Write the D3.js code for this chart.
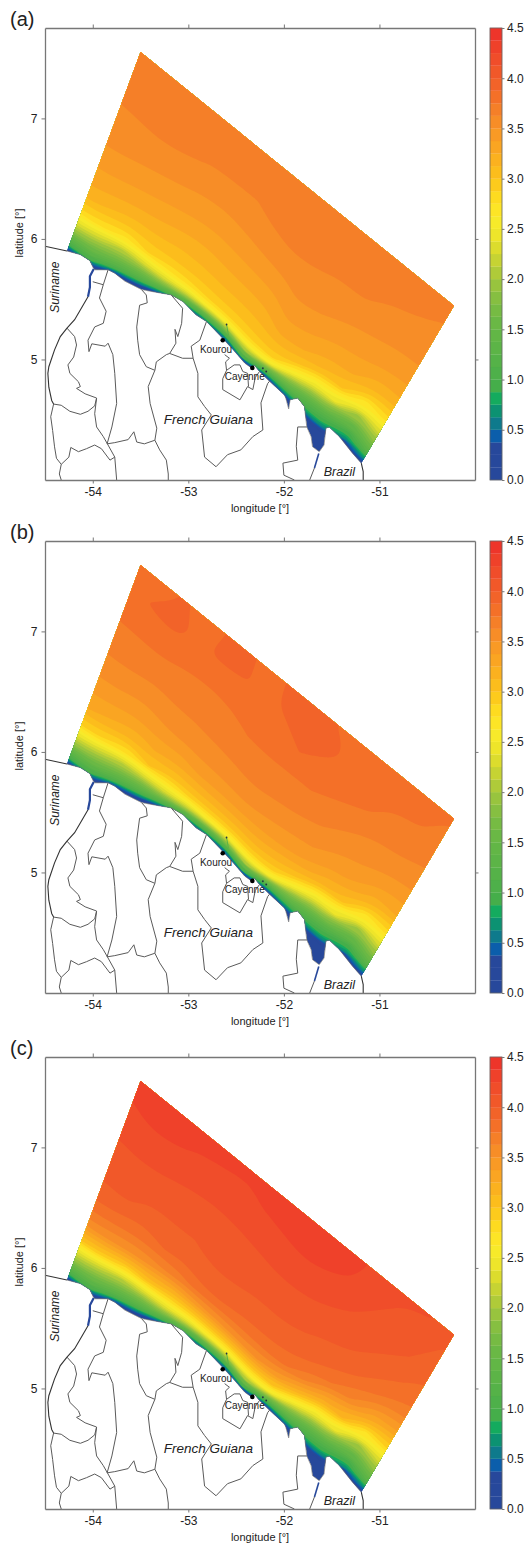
<!DOCTYPE html>
<html lang="en">
  <head>
    <meta charset="UTF-8" />
    <title>French Guiana offshore field maps</title>
    <script src="https://d3js.org/d3.v7.min.js"></script>
    <style>
      body {
        margin: 0;
        background: #fff;
      }
      text {
        font-family: "Liberation Sans", Arial, sans-serif;
        fill: #222;
      }
      .domain,
      .tick line {
        stroke: #777;
      }
    </style>
  </head>
  <body>
    <div id="chart"></div>
    <script>
      const panelNames = ["(a)", "(b)", "(c)"];
      const lonTicks = [-54, -53, -52, -51];
      const latTicks = [5, 6, 7];
      const barTicks = [0, 0.5, 1, 1.5, 2, 2.5, 3, 3.5, 4, 4.5];
      const barStep = 0.125;

      // one colour per band of the colour bar, lowest first
      const bandColors = [
        "#27489b", "#27489b", "#27489b", "#0b5eab", "#0e7a8c", "#0c9272",
        "#14ab5e", "#45ae4a", "#4eb04a", "#55b248", "#5cb447", "#62b646",
        "#6ab845", "#76bb43", "#86bf41", "#98c43e", "#afcb39", "#c6d333",
        "#dcdc2d", "#eee52a", "#f7ea2a", "#fde526", "#fedb20", "#fdcb1c",
        "#fcbd1c", "#fbb11f", "#faa522", "#f99a25", "#f78d27", "#f57f28",
        "#f47028", "#f26329", "#f15829", "#f04d2a", "#ef412a", "#ee352a",
      ];

      // modelled domain, offshore edge
      const cornerTop = [-53.5, 7.55];
      const cornerRight = [-50.22, 5.445];

      // smoothed shoreline the field columns hang from
      const shoreRef = [
        [-54.28, 5.9], [-54.13, 5.84], [-53.98, 5.72], [-53.77, 5.68],
        [-53.5, 5.55], [-53.18, 5.5], [-52.92, 5.34], [-52.67, 5.17],
        [-52.41, 4.93], [-52.15, 4.78], [-51.98, 4.66], [-51.76, 4.42],
        [-51.5, 4.3], [-51.19, 4.14],
      ];

      // fraction of the way from shore to offshore edge for each row of a column
      const offshoreSteps = [0, 0.015, 0.03, 0.05, 0.07, 0.1, 0.14, 0.2, 0.28, 0.38, 0.5, 0.62, 0.75, 0.88, 1];

      // values per column, west to east, shore to offshore
      const fieldA = [
        [0.1, 0.4, 0.9, 1.2, 1.5, 1.9, 2.35, 2.85, 3.18, 3.33, 3.48, 3.56, 3.63, 3.68, 3.7],
        [0.2, 0.6, 1.0, 1.25, 1.5, 1.8, 2.2, 2.8, 3.1, 3.3, 3.46, 3.56, 3.64, 3.7, 3.72],
        [0, 0.1, 0.5, 1.05, 1.35, 1.7, 2.05, 2.7, 3.05, 3.28, 3.44, 3.55, 3.66, 3.72, 3.74],
        [0, 0.1, 0.45, 1.0, 1.3, 1.7, 2.3, 2.9, 3.1, 3.27, 3.42, 3.54, 3.64, 3.72, 3.74],
        [0, 0.25, 0.7, 1.3, 1.8, 2.3, 2.7, 2.97, 3.12, 3.26, 3.42, 3.52, 3.62, 3.7, 3.72],
        [0, 0.4, 0.9, 1.4, 2.0, 2.5, 2.85, 3.02, 3.15, 3.27, 3.42, 3.52, 3.62, 3.7, 3.72],
        [0, 0.3, 0.7, 1.3, 1.9, 2.6, 2.9, 3.05, 3.18, 3.3, 3.44, 3.54, 3.62, 3.7, 3.72],
        [0, 0.2, 0.6, 1.2, 1.8, 2.5, 2.9, 3.05, 3.18, 3.32, 3.46, 3.58, 3.66, 3.7, 3.72],
        [0, 0.4, 1.0, 1.6, 2.1, 2.6, 2.9, 3.05, 3.18, 3.32, 3.47, 3.6, 3.68, 3.72, 3.72],
        [0, 0.1, 0.3, 0.9, 1.6, 2.5, 2.95, 3.12, 3.3, 3.42, 3.53, 3.6, 3.66, 3.7, 3.7],
        [0, 0.3, 0.7, 1.1, 1.5, 1.9, 2.5, 3.0, 3.25, 3.38, 3.5, 3.58, 3.64, 3.7, 3.7],
        [0, 0.05, 0.3, 0.7, 1.0, 1.3, 1.8, 2.5, 3.1, 3.3, 3.44, 3.55, 3.65, 3.7, 3.7],
        [0, 0.05, 0.3, 0.6, 0.85, 1.1, 1.6, 2.4, 3.0, 3.28, 3.42, 3.52, 3.6, 3.68, 3.7],
        [0, 0, 0.1, 0.3, 0.7, 0.95, 1.4, 1.9, 2.65, 3.15, 3.38, 3.5, 3.58, 3.66, 3.7],
        [0.2, 0.4, 0.7, 1.0, 1.3, 1.6, 1.9, 2.35, 2.85, 3.2, 3.38, 3.5, 3.56, 3.62, 3.7],
      ];

      const fieldB = [
        [0.1, 0.4, 0.9, 1.2, 1.5, 1.9, 2.35, 2.9, 3.25, 3.42, 3.58, 3.68, 3.77, 3.83, 3.85],
        [0.2, 0.6, 1.0, 1.25, 1.5, 1.8, 2.2, 2.85, 3.2, 3.4, 3.58, 3.68, 3.78, 3.89, 3.82],
        [0, 0.1, 0.5, 1.05, 1.35, 1.7, 2.1, 2.75, 3.15, 3.38, 3.55, 3.68, 3.8, 3.92, 3.88],
        [0, 0.1, 0.45, 1.0, 1.3, 1.7, 2.3, 3.0, 3.25, 3.46, 3.6, 3.68, 3.77, 3.85, 3.84],
        [0, 0.25, 0.7, 1.3, 1.8, 2.3, 2.7, 3.05, 3.3, 3.5, 3.62, 3.7, 3.77, 3.9, 3.88],
        [0, 0.4, 0.9, 1.4, 2.0, 2.5, 2.95, 3.18, 3.42, 3.55, 3.65, 3.72, 3.78, 3.89, 3.88],
        [0, 0.3, 0.7, 1.3, 1.9, 2.6, 2.95, 3.2, 3.42, 3.57, 3.67, 3.75, 3.81, 3.84, 3.85],
        [0, 0.2, 0.6, 1.2, 1.8, 2.5, 2.95, 3.2, 3.45, 3.6, 3.68, 3.76, 3.82, 3.9, 3.9],
        [0, 0.4, 1.0, 1.6, 2.1, 2.6, 2.95, 3.2, 3.4, 3.55, 3.67, 3.75, 3.88, 3.93, 3.92],
        [0, 0.1, 0.3, 0.9, 1.6, 2.5, 2.95, 3.15, 3.38, 3.53, 3.66, 3.75, 3.83, 3.92, 3.86],
        [0, 0.3, 0.7, 1.1, 1.5, 1.9, 2.5, 3.05, 3.35, 3.5, 3.62, 3.72, 3.8, 3.82, 3.8],
        [0, 0.05, 0.3, 0.7, 1.0, 1.3, 1.8, 2.5, 3.15, 3.4, 3.55, 3.65, 3.77, 3.8, 3.8],
        [0, 0.05, 0.3, 0.6, 0.85, 1.1, 1.6, 2.4, 3.05, 3.35, 3.5, 3.6, 3.72, 3.77, 3.78],
        [0, 0, 0.1, 0.3, 0.7, 0.95, 1.4, 1.9, 2.65, 3.2, 3.45, 3.6, 3.7, 3.77, 3.78],
        [0.2, 0.4, 0.7, 1.0, 1.3, 1.6, 1.9, 2.35, 2.85, 3.25, 3.45, 3.58, 3.66, 3.72, 3.76],
      ];

      const fieldC = [
        [0.1, 0.4, 0.9, 1.2, 1.5, 1.9, 2.35, 3.0, 3.55, 3.85, 4.0, 4.07, 4.15, 4.24, 4.3],
        [0.2, 0.6, 1.0, 1.25, 1.5, 1.8, 2.2, 2.95, 3.5, 3.82, 4.02, 4.08, 4.17, 4.28, 4.32],
        [0, 0.1, 0.5, 1.05, 1.35, 1.7, 2.1, 2.85, 3.5, 3.8, 3.97, 4.07, 4.17, 4.27, 4.32],
        [0, 0.1, 0.45, 1.0, 1.3, 1.7, 2.3, 3.05, 3.55, 3.87, 3.98, 4.08, 4.14, 4.24, 4.3],
        [0, 0.25, 0.7, 1.3, 1.8, 2.3, 2.75, 3.2, 3.7, 3.9, 4.0, 4.08, 4.14, 4.23, 4.3],
        [0, 0.4, 0.9, 1.4, 2.0, 2.5, 2.95, 3.45, 3.85, 3.97, 4.05, 4.1, 4.14, 4.22, 4.28],
        [0, 0.3, 0.7, 1.3, 1.9, 2.6, 3.0, 3.5, 3.85, 3.97, 4.05, 4.1, 4.16, 4.26, 4.3],
        [0, 0.2, 0.6, 1.2, 1.8, 2.5, 3.0, 3.55, 3.82, 3.95, 4.03, 4.11, 4.2, 4.28, 4.33],
        [0, 0.4, 1.0, 1.6, 2.1, 2.6, 3.0, 3.5, 3.8, 3.95, 4.03, 4.11, 4.22, 4.3, 4.33],
        [0, 0.1, 0.3, 0.9, 1.6, 2.5, 3.0, 3.45, 3.8, 3.93, 4.02, 4.1, 4.2, 4.28, 4.3],
        [0, 0.3, 0.7, 1.1, 1.5, 1.9, 2.5, 3.15, 3.65, 3.87, 3.98, 4.07, 4.15, 4.24, 4.26],
        [0, 0.05, 0.3, 0.7, 1.0, 1.3, 1.8, 2.5, 3.25, 3.75, 3.95, 4.03, 4.1, 4.15, 4.2],
        [0, 0.05, 0.3, 0.6, 0.85, 1.1, 1.6, 2.4, 3.15, 3.6, 3.85, 3.97, 4.05, 4.1, 4.14],
        [0, 0, 0.1, 0.3, 0.7, 0.95, 1.4, 1.9, 2.7, 3.35, 3.75, 3.9, 4.0, 4.08, 4.13],
        [0.2, 0.4, 0.7, 1.0, 1.3, 1.6, 1.9, 2.35, 2.9, 3.35, 3.7, 3.82, 3.92, 3.98, 4.05],
      ];

      const panelFields = [fieldA, fieldB, fieldC];

      // shoreline of the domain, west to east, including the estuaries
      const shoreline = [
        [-54.27, 5.9], [-54.13, 5.87], [-54.03, 5.82], [-53.995, 5.76], [-53.98, 5.744],
        [-53.84, 5.744], [-53.77, 5.716], [-53.665, 5.65], [-53.49, 5.58], [-53.32, 5.555],
        [-53.18, 5.536], [-53.055, 5.48], [-52.92, 5.37], [-52.81, 5.315], [-52.67, 5.2],
        [-52.53, 5.08], [-52.41, 4.97], [-52.34, 4.93], [-52.31, 4.955], [-52.255, 4.9],
        [-52.15, 4.82], [-51.995, 4.705], [-51.98, 4.68], [-51.95, 4.59], [-51.935, 4.665],
        [-51.855, 4.68], [-51.785, 4.61], [-51.76, 4.44], [-51.715, 4.36], [-51.7, 4.276],
        [-51.63, 4.235], [-51.58, 4.29], [-51.56, 4.43], [-51.525, 4.44], [-51.42, 4.36],
        [-51.28, 4.22], [-51.19, 4.14],
      ];

      const coastWest = [[-54.5, 5.94], [-54.27, 5.9]];
      const coastBrazil = [[-51.19, 4.14], [-51.17, 4.07], [-51.17, 4.0]];
      const riverMaroni = [[-53.99, 5.75], [-54.03, 5.69], [-54.03, 5.6], [-54.05, 5.52]];
      const riverOyapock = [[-51.635, 4.22], [-51.68, 4.1]];
      const saluteSpit = [[-52.58, 5.2], [-52.6, 5.29]];

      const darkBorder = [
        [-54.05, 5.52], [-54.12, 5.425], [-54.19, 5.33], [-54.27, 5.26], [-54.34, 5.19],
        [-54.4, 5.08], [-54.46, 4.94], [-54.47, 4.885], [-54.46, 4.77], [-54.43, 4.66], [-54.41, 4.63],
      ];

      const borderLines = [
        [[-54.41, 4.63], [-54.44, 4.525], [-54.42, 4.41], [-54.4, 4.275], [-54.38, 4.18], [-54.33, 4.13], [-54.35, 4.05], [-54.33, 4.0]],
        [[-54.41, 4.63], [-54.33, 4.62], [-54.24, 4.57], [-54.13, 4.545], [-54.05, 4.57], [-53.98, 4.615], [-53.96, 4.68]],
        [[-54.27, 5.26], [-54.19, 5.19], [-54.17, 5.12], [-54.2, 5.02], [-54.26, 4.955], [-54.24, 4.885], [-54.15, 4.815], [-54.13, 4.775], [-54.17, 4.76], [-54.08, 4.715], [-53.96, 4.68], [-53.98, 4.55], [-53.96, 4.44], [-53.89, 4.36], [-53.84, 4.29], [-53.77, 4.19], [-53.75, 4.0]],
        [[-54.33, 4.13], [-54.25, 4.19], [-54.23, 4.27], [-54.15, 4.235], [-54.065, 4.26], [-53.98, 4.29], [-53.91, 4.26], [-53.82, 4.165], [-53.77, 4.19]],
        [[-53.84, 5.744], [-53.89, 5.62], [-53.93, 5.51], [-53.86, 5.4], [-53.89, 5.3], [-53.98, 5.27], [-54.05, 5.16], [-54.04, 5.065], [-54.01, 5.13], [-53.87, 5.11], [-53.84, 5.135], [-53.79, 5.04], [-53.77, 4.885], [-53.75, 4.635], [-53.8, 4.44], [-53.85, 4.3]],
        [[-54.0, 5.645], [-53.89, 5.62]],
        [[-53.85, 4.3], [-53.77, 4.31], [-53.63, 4.335], [-53.57, 4.4], [-53.54, 4.315], [-53.46, 4.3], [-53.35, 4.33], [-53.3, 4.25], [-53.23, 4.165], [-53.21, 4.05], [-53.21, 4.0]],
        [[-53.35, 4.33], [-53.33, 4.43], [-53.4, 4.635], [-53.42, 4.775], [-53.35, 4.91], [-53.44, 4.94], [-53.51, 5.04], [-53.53, 5.16], [-53.54, 5.27], [-53.51, 5.45], [-53.43, 5.47], [-53.44, 5.535], [-53.49, 5.58]],
        [[-53.35, 4.91], [-53.335, 4.98], [-53.23, 5.04], [-53.195, 5.05], [-53.13, 5.135], [-53.14, 5.25], [-53.11, 5.19], [-53.07, 5.3], [-53.06, 5.425], [-53.18, 5.536]],
        [[-53.195, 5.05], [-53.06, 5.01], [-52.95, 5.01], [-52.9, 4.885], [-52.9, 4.69], [-52.83, 4.61], [-52.76, 4.54], [-52.86, 4.415], [-52.83, 4.19], [-52.71, 4.11], [-52.59, 4.21], [-52.45, 4.25], [-52.325, 4.36], [-52.22, 4.415], [-52.24, 4.64], [-52.17, 4.8], [-52.15, 4.82]],
        [[-52.81, 5.315], [-52.88, 5.16], [-52.97, 5.11], [-52.95, 5.01]],
        [[-52.62, 5.04], [-52.57, 5.01], [-52.61, 4.98], [-52.6, 4.91], [-52.64, 4.84], [-52.64, 4.75], [-52.46, 4.665], [-52.38, 4.775], [-52.325, 4.75], [-52.3, 4.85], [-52.255, 4.9]],
        [[-52.6, 4.91], [-52.52, 4.955], [-52.46, 4.955], [-52.43, 4.9], [-52.38, 4.885], [-52.37, 4.775]],
        [[-51.76, 4.44], [-51.855, 4.44], [-51.87, 4.28], [-51.855, 4.165], [-52.01, 4.14], [-52.0, 4.04], [-51.89, 4.0]],
        [[-51.73, 4.0], [-51.68, 4.1]],
      ];

      const cities = [
        { name: "Kourou", lon: -52.64, lat: 5.16, labelLon: -52.71, labelLat: 5.08 },
        { name: "Cayenne", lon: -52.33, lat: 4.93, labelLon: -52.41, labelLat: 4.855 },
      ];
      const islets = [[-52.6, 5.29], [-52.22, 4.927], [-52.185, 4.9]];
      const regionLabels = [
        { name: "French Guiana", lon: -52.79, lat: 4.5, size: 13.5, rotate: 0 },
        { name: "Brazil", lon: -51.42, lat: 4.066, size: 12.5, rotate: 0 },
        { name: "Suriname", lon: -54.395, lat: 5.6, size: 12, rotate: -90 },
      ];

      const width = 526;
      const height = 1544;
      const frameWidth = 430;
      const frameHeight = 452;
      const frameLeft = 45;
      const panelBottoms = [480, 993, 1509];
      const barLeft = 490;
      const barWidth = 12;

      const svg = d3.select("#chart").append("svg").attr("width", width).attr("height", height);

      const defs = svg.append("defs");
      const coordLine = d3.line();
      const smoothRing = d3.line().curve(d3.curveBasisClosed);

      function pointAlong(pts, f) {
        const lens = d3.pairs(pts, (a, b) => Math.hypot(b[0] - a[0], b[1] - a[1]));
        let left = f * d3.sum(lens);
        for (let i = 0; i < lens.length; i++) {
          if (left <= lens[i] || i === lens.length - 1) {
            const k = left / lens[i];
            return [pts[i][0] + (pts[i + 1][0] - pts[i][0]) * k, pts[i][1] + (pts[i + 1][1] - pts[i][1]) * k];
          }
          left -= lens[i];
        }
      }

      function drawField(g, field, x, y, clipId) {
        const project = (d) => [x(d[0]), y(d[1])];
        const nCols = field.length;
        const ref = shoreRef.map(project);
        const top = project(cornerTop);
        const right = project(cornerRight);

        // column feet and heads, with one extra column outside each end
        const feet = d3.range(-1, nCols + 1).map((i) => {
          const f = Math.min(Math.max(i / (nCols - 1), 0), 1);
          const p = pointAlong(ref, f);
          const over = i < 0 ? -1 : i >= nCols ? 1 : 0;
          return [p[0] + over * 24, p[1] + over * 18];
        });
        const heads = d3.range(-1, nCols + 1).map((i) => {
          const f = i / (nCols - 1);
          return [top[0] + (right[0] - top[0]) * f, top[1] + (right[1] - top[1]) * f];
        });
        const rows = [-0.03, ...offshoreSteps, 1.15];
        const nx = nCols + 2;
        const ny = rows.length;

        const values = [];
        for (let j = 0; j < ny; j++) {
          for (let i = 0; i < nx; i++) {
            const col = field[Math.min(Math.max(i - 1, 0), nCols - 1)];
            values.push(j === 0 ? 0 : col[Math.min(j - 1, col.length - 1)]);
          }
        }

        function gridToPixel(p) {
          const gx = Math.min(Math.max(p[0] - 0.5, 0), nx - 1);
          const gy = Math.min(Math.max(p[1] - 0.5, 0), ny - 1);
          const i0 = Math.min(Math.floor(gx), nx - 2);
          const j0 = Math.min(Math.floor(gy), ny - 2);
          const fx = gx - i0;
          const t = rows[j0] + (rows[j0 + 1] - rows[j0]) * (gy - j0);
          const fx0 = feet[i0][0] + (feet[i0 + 1][0] - feet[i0][0]) * fx;
          const fy0 = feet[i0][1] + (feet[i0 + 1][1] - feet[i0][1]) * fx;
          const hx0 = heads[i0][0] + (heads[i0 + 1][0] - heads[i0][0]) * fx;
          const hy0 = heads[i0][1] + (heads[i0 + 1][1] - heads[i0][1]) * fx;
          return [fx0 + (hx0 - fx0) * t, fy0 + (hy0 - fy0) * t];
        }

        const thresholds = bandColors.map((c, i) => i * barStep).slice(1);
        const contours = d3.contours().size([nx, ny]).thresholds(thresholds)(values);

        const field_g = g.append("g").attr("clip-path", `url(#${clipId})`);
        field_g
          .append("path")
          .attr("d", coordLine([...shoreline.map(project), right, top]) + "Z")
          .attr("fill", bandColors[0]);
        field_g
          .selectAll("path.band")
          .data(contours)
          .enter()
          .append("path")
          .attr("class", "band")
          .attr("fill-rule", "evenodd")
          .attr("fill", (d, i) => bandColors[i + 1])
          .attr("d", (d) =>
            d.coordinates
              .flat()
              .map((ring) => smoothRing(ring.slice(0, -1).map(gridToPixel)))
              .join("")
          );
      }

      panelFields.forEach((field, p) => {
        const bottom = panelBottoms[p];
        const top = bottom - frameHeight;
        const x = d3.scaleLinear().domain([-54.5, -50]).range([frameLeft, frameLeft + frameWidth]);
        const y = d3.scaleLinear().domain([4, 7.75]).range([bottom, top]);
        const project = (d) => [x(d[0]), y(d[1])];
        const g = svg.append("g");
        const clipId = `domain-${p}`;

        defs
          .append("clipPath")
          .attr("id", clipId)
          .append("path")
          .attr("d", coordLine([...shoreline.map(project), project(cornerRight), project(cornerTop)]) + "Z");

        drawField(g, field, x, y, clipId);

        // rivers that carry the lowest band inland
        g.append("path")
          .attr("d", coordLine(riverMaroni.map(project)))
          .attr("fill", "none")
          .attr("stroke", bandColors[0])
          .attr("stroke-width", 2.2);
        g.append("path")
          .attr("d", coordLine(riverOyapock.map(project)))
          .attr("fill", "none")
          .attr("stroke", bandColors[0])
          .attr("stroke-width", 1.6);
        g.append("path")
          .attr("d", coordLine(saluteSpit.map(project)))
          .attr("fill", "none")
          .attr("stroke", "#5cb447")
          .attr("stroke-width", 1);

        // land lines
        g.selectAll("path.border")
          .data(borderLines)
          .enter()
          .append("path")
          .attr("class", "border")
          .attr("d", (d) => coordLine(d.map(project)))
          .attr("fill", "none")
          .attr("stroke", "#5a5a5a")
          .attr("stroke-width", 1);
        [shoreline, coastWest, coastBrazil, darkBorder].forEach((line, i) => {
          g.append("path")
            .attr("d", coordLine(line.map(project)))
            .attr("fill", "none")
            .attr("stroke", i === 0 ? "#777" : "#333")
            .attr("stroke-width", i === 0 ? 0.7 : 1.1);
        });

        g.selectAll("circle.islet")
          .data(islets)
          .enter()
          .append("circle")
          .attr("class", "islet")
          .attr("cx", (d) => x(d[0]))
          .attr("cy", (d) => y(d[1]))
          .attr("r", 0.9)
          .attr("fill", "#234");

        g.selectAll("circle.city")
          .data(cities)
          .enter()
          .append("circle")
          .attr("class", "city")
          .attr("cx", (d) => x(d.lon))
          .attr("cy", (d) => y(d.lat))
          .attr("r", 2.3)
          .attr("fill", "#000");
        g.selectAll("text.city")
          .data(cities)
          .enter()
          .append("text")
          .attr("class", "city")
          .attr("x", (d) => x(d.labelLon))
          .attr("y", (d) => y(d.labelLat))
          .attr("dy", "0.35em")
          .attr("text-anchor", "middle")
          .attr("font-size", 10)
          .text((d) => d.name);

        g.selectAll("text.region")
          .data(regionLabels)
          .enter()
          .append("text")
          .attr("class", "region")
          .attr("transform", (d) => `translate(${x(d.lon)},${y(d.lat)}) rotate(${d.rotate})`)
          .attr("dy", "0.35em")
          .attr("text-anchor", "middle")
          .attr("font-style", "italic")
          .attr("font-size", (d) => d.size)
          .text((d) => d.name);

        // frame with ticks on all four sides
        const sides = [
          [d3.axisBottom(x).tickValues(lonTicks).tickFormat((d) => String(d)), `translate(0,${bottom})`],
          [d3.axisTop(x).tickValues(lonTicks).tickFormat(""), `translate(0,${top})`],
          [d3.axisLeft(y).tickValues(latTicks).tickFormat((d) => String(d)), `translate(${frameLeft},0)`],
          [d3.axisRight(y).tickValues(latTicks).tickFormat(""), `translate(${frameLeft + frameWidth},0)`],
        ];
        sides.forEach(([axis, transform]) => {
          const a = g.append("g").attr("transform", transform).call(axis.tickSize(3.5).tickSizeOuter(0).tickPadding(4));
          a.select(".domain").attr("stroke-width", 1.3);
          a.selectAll("text").attr("font-size", 12).attr("fill", "#222").attr("font-family", null);
        });

        g.append("text")
          .attr("x", frameLeft + frameWidth / 2)
          .attr("y", bottom + 32)
          .attr("text-anchor", "middle")
          .attr("font-size", 11)
          .text("longitude [°]");
        g.append("text")
          .attr("transform", `translate(23,${bottom - 247}) rotate(-90)`)
          .attr("text-anchor", "middle")
          .attr("font-size", 11)
          .text("latitude [°]");
        g.append("text")
          .attr("x", 10)
          .attr("y", top - 2)
          .attr("font-size", 20)
          .text(panelNames[p]);

        // colour bar
        const barScale = d3.scaleLinear().domain([0, 4.5]).range([bottom, top]);
        g.selectAll("rect.band")
          .data(bandColors)
          .enter()
          .append("rect")
          .attr("class", "band")
          .attr("x", barLeft)
          .attr("width", barWidth)
          .attr("y", (d, i) => barScale((i + 1) * barStep))
          .attr("height", (d, i) => barScale(i * barStep) - barScale((i + 1) * barStep))
          .attr("fill", (d) => d)
          .attr("stroke", (d) => d)
          .attr("stroke-width", 0.2);
        g.append("rect")
          .attr("x", barLeft)
          .attr("y", top)
          .attr("width", barWidth)
          .attr("height", frameHeight)
          .attr("fill", "none")
          .attr("stroke", "#666")
          .attr("stroke-width", 0.8);
        const barAxis = g
          .append("g")
          .attr("transform", `translate(${barLeft + barWidth},0)`)
          .call(d3.axisRight(barScale).tickValues(barTicks).tickFormat(d3.format(".1f")).tickSize(2.5).tickPadding(2.5));
        barAxis.select(".domain").remove();
        barAxis.selectAll("text").attr("font-size", 12).attr("fill", "#222").attr("font-family", null);
      });
    </script>
  </body>
</html>
